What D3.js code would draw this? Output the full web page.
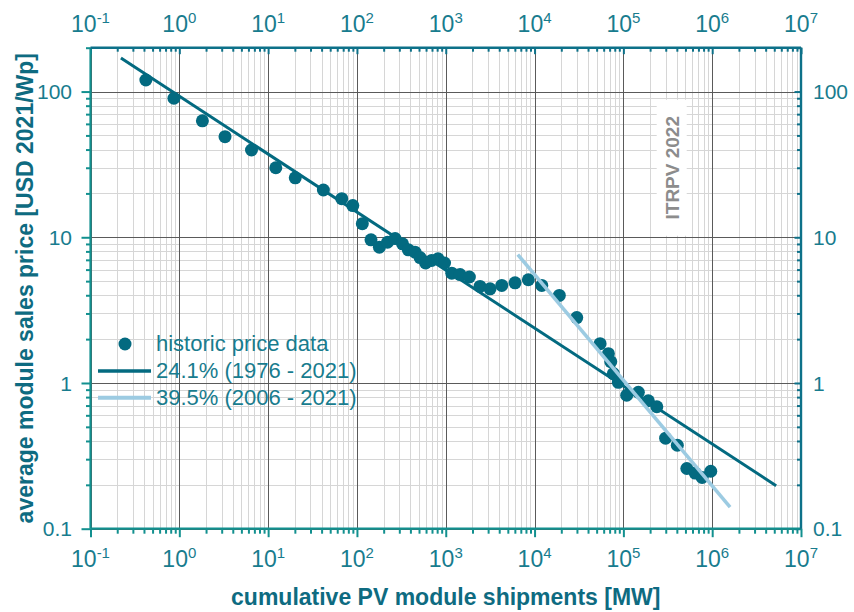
<!DOCTYPE html>
<html>
<head>
<meta charset="utf-8">
<script src="https://cdn.jsdelivr.net/npm/d3@7/dist/d3.min.js"></script>
<style>
  html, body { margin: 0; padding: 0; background: #ffffff; }
  svg { display: block; font-family: "Liberation Sans", Arial, sans-serif; }
</style>
</head>
<body>
<svg id="chart" width="854" height="612"></svg>
<script>
// Historic module prices vs. cumulative shipments (learning curve)
const shipmentsMW = [
  0.42, 0.87, 1.82, 3.27, 6.5, 12.2, 20.2, 41.9, 67.5, 89.8,
  115, 144, 179, 221, 269, 326, 379, 451, 514, 593,
  692, 819, 969, 1169, 1449, 1845, 2433, 3153, 4272, 6030,
  8510, 12050, 19000, 29850, 54700, 67800, 72100, 77100, 87800, 109000,
  147500, 191000, 238000, 299000, 405000, 518000, 643000, 770000, 964000
];
const pricesUSD = [
  120, 90, 63, 49, 39.7, 30, 25.6, 21.1, 18.4, 16.5,
  12.4, 9.6, 8.54, 9.24, 9.8, 9.01, 8.2, 7.9, 7.26, 6.66,
  6.93, 7.11, 6.66, 5.67, 5.55, 5.34, 4.6, 4.43, 4.67, 4.87,
  5.11, 4.67, 3.99, 2.81, 1.86, 1.59, 1.40, 1.16, 1.01, 0.824,
  0.864, 0.755, 0.687, 0.418, 0.374, 0.259, 0.241, 0.225, 0.248
];

// Learning-rate fits: price = anchorPrice * (x / anchorX)^log2(1 - rate)
const fitLabels = ["24.1% (1976 - 2021)", "39.5% (2006 - 2021)"];
const fitRates = [0.241, 0.395];
const fitAnchorX = [1, 1e5];
const fitAnchorPrice = [93, 1.046];
const fitFromX = [0.22, 6470];
const fitToX = [5.25e6, 1.59e6];
const fitColors = ["#036a80", "#9ccbe2"];

const dataLabel = "historic price data";
const xTickExponents = [-1, 0, 1, 2, 3, 4, 5, 6, 7];
const yTickValues = [0.1, 1, 10, 100];
const yTickLabels = ["0.1", "1", "10", "100"];
const xTitle = "cumulative PV module shipments [MW]";
const yTitle = "average module sales price [USD 2021/Wp]";
const stamp = "ITRPV 2022";

const dotColor = "#036a80";
const axisLB = "#12908f";
const axisTR = "#0d7189";
const labelColor = "#187c8e";
const titleColor = "#0e6b81";

const svg = d3.select("#chart");
const pL = 90.5, pR = 801, pT = 47.7, pB = 528.7;

const x = d3.scaleLog().domain([0.1, 1e7]).range([pL, pR]);
const y = d3.scaleLog().domain([0.1, 200]).range([pB, pT]);

// minor / major positions per decade
const xMajor = xTickExponents.map(e => Math.pow(10, e));
const xMinor = [];
xTickExponents.slice(0, -1).forEach(e => {
  for (let k = 2; k <= 9; k++) xMinor.push(k * Math.pow(10, e));
});
const yMinor = [];
[-1, 0, 1, 2].forEach(e => {
  for (let k = 2; k <= 9; k++) {
    const v = k * Math.pow(10, e);
    if (v <= 200) yMinor.push(v);
  }
});

const crisp = v => Math.round(v) + 0.5;

// grid
const grid = svg.append("g");
grid.selectAll(".xm").data(xMinor).join("line")
  .attr("x1", d => crisp(x(d))).attr("x2", d => crisp(x(d)))
  .attr("y1", pT).attr("y2", pB)
  .attr("stroke", "#d6d6d6").attr("stroke-width", 1);
grid.selectAll(".ym").data(yMinor).join("line")
  .attr("y1", d => crisp(y(d))).attr("y2", d => crisp(y(d)))
  .attr("x1", pL).attr("x2", pR)
  .attr("stroke", "#d6d6d6").attr("stroke-width", 1);
grid.selectAll(".xM").data(xMajor).join("line")
  .attr("x1", d => crisp(x(d))).attr("x2", d => crisp(x(d)))
  .attr("y1", pT).attr("y2", pB)
  .attr("stroke", "#5a5a5a").attr("stroke-width", 1);
grid.selectAll(".yM").data(yTickValues).join("line")
  .attr("y1", d => crisp(y(d))).attr("y2", d => crisp(y(d)))
  .attr("x1", pL).attr("x2", pR)
  .attr("stroke", "#5a5a5a").attr("stroke-width", 1);

// stamp with white backing
const stampX = x(3.5e5), stampY = y(30);
svg.append("rect")
  .attr("x", stampX - 15).attr("y", stampY - 68)
  .attr("width", 30).attr("height", 136)
  .attr("fill", "#ffffff");
svg.append("text")
  .attr("transform", `translate(${stampX + 7},${stampY}) rotate(-90)`)
  .attr("text-anchor", "middle")
  .attr("font-size", 19).attr("font-weight", "bold")
  .attr("fill", "#8c8c8c")
  .text(stamp);

// fit lines
const fitPoint = (i, xv) => fitAnchorPrice[i] * Math.pow(xv / fitAnchorX[i], Math.log2(1 - fitRates[i]));
const line = d3.line().x(d => x(d[0])).y(d => y(d[1]));
const fitPath = i => line([[fitFromX[i], fitPoint(i, fitFromX[i])], [fitToX[i], fitPoint(i, fitToX[i])]]);

svg.append("path").attr("d", fitPath(0))
  .attr("stroke", fitColors[0]).attr("stroke-width", 3).attr("fill", "none");

// historic data
svg.append("g").selectAll("circle")
  .data(shipmentsMW.map((s, i) => [s, pricesUSD[i]]))
  .join("circle")
  .attr("cx", d => x(d[0])).attr("cy", d => y(d[1]))
  .attr("r", 6.5).attr("fill", dotColor);

svg.append("path").attr("d", fitPath(1))
  .attr("stroke", fitColors[1]).attr("stroke-width", 3.5).attr("fill", "none");

// axes
function axisTicks(g, axis) { g.call(axis); g.select(".domain").remove(); }

const gB = svg.append("g").attr("transform", `translate(0,${pB})`);
gB.append("g").call(g => axisTicks(g, d3.axisBottom(x).tickValues(xMajor).tickSize(8.5).tickFormat("")));
gB.append("g").call(g => axisTicks(g, d3.axisBottom(x).tickValues(xMinor).tickSize(5).tickFormat("")));
gB.selectAll("line").attr("stroke", axisLB).attr("stroke-width", 2);

const gT = svg.append("g").attr("transform", `translate(0,${pT})`);
gT.append("g").call(g => axisTicks(g, d3.axisTop(x).tickValues(xMajor).tickSize(-6.5).tickFormat("")));
gT.append("g").call(g => axisTicks(g, d3.axisTop(x).tickValues(xMinor).tickSize(-4).tickFormat("")));
gT.selectAll("line").attr("stroke", axisTR).attr("stroke-width", 2);

const gL = svg.append("g").attr("transform", `translate(${pL},0)`);
gL.append("g").call(g => axisTicks(g, d3.axisLeft(y).tickValues(yTickValues).tickSize(9).tickFormat("")));
gL.append("g").call(g => axisTicks(g, d3.axisLeft(y).tickValues(yMinor).tickSize(4.5).tickFormat("")));
gL.selectAll("line").attr("stroke", axisLB).attr("stroke-width", 2);

const gR = svg.append("g").attr("transform", `translate(${pR},0)`);
gR.append("g").call(g => axisTicks(g, d3.axisRight(y).tickValues(yTickValues).tickSize(-6.5).tickFormat("")));
gR.append("g").call(g => axisTicks(g, d3.axisRight(y).tickValues(yMinor).tickSize(-4).tickFormat("")));
gR.selectAll("line").attr("stroke", axisTR).attr("stroke-width", 2);

// frame
svg.append("line").attr("x1", pL).attr("x2", pR).attr("y1", pB).attr("y2", pB)
  .attr("stroke", axisLB).attr("stroke-width", 2.2);
svg.append("line").attr("x1", pL).attr("x2", pL).attr("y1", pT).attr("y2", pB)
  .attr("stroke", axisLB).attr("stroke-width", 2.2);
svg.append("line").attr("x1", pL).attr("x2", pR).attr("y1", pT).attr("y2", pT)
  .attr("stroke", axisTR).attr("stroke-width", 2.4);
svg.append("line").attr("x1", pR).attr("x2", pR).attr("y1", pT).attr("y2", pB)
  .attr("stroke", axisTR).attr("stroke-width", 2.4);

// power-of-ten labels on top and bottom
function powerLabels(baseline) {
  const t = svg.append("g").selectAll("text").data(xTickExponents).join("text")
    .attr("x", d => x(Math.pow(10, d)))
    .attr("y", baseline)
    .attr("text-anchor", "middle")
    .attr("fill", labelColor)
    .attr("font-size", 23);
  t.append("tspan").text("10");
  t.append("tspan").attr("font-size", 15).attr("dy", -8.5).text(d => d < 0 ? "-" + Math.abs(d) : String(d));
}
powerLabels(31.7);
powerLabels(566.7);

// value labels left and right
svg.append("g").selectAll("text").data(yTickValues).join("text")
  .attr("x", 72).attr("y", d => y(d)).attr("dy", "0.36em")
  .attr("text-anchor", "end").attr("fill", labelColor).attr("font-size", 21)
  .text((d, i) => yTickLabels[i]);
svg.append("g").selectAll("text").data(yTickValues).join("text")
  .attr("x", 813).attr("y", d => y(d)).attr("dy", "0.36em")
  .attr("text-anchor", "start").attr("fill", labelColor).attr("font-size", 21)
  .text((d, i) => yTickLabels[i]);

// titles
svg.append("text")
  .attr("x", (pL + pR) / 2).attr("y", 605)
  .attr("text-anchor", "middle").attr("font-weight", "bold")
  .attr("font-size", 23).attr("fill", titleColor)
  .text(xTitle);
svg.append("text")
  .attr("transform", `translate(33,${(pT + pB) / 2}) rotate(-90)`)
  .attr("text-anchor", "middle").attr("font-weight", "bold")
  .attr("font-size", 23).attr("fill", titleColor)
  .text(yTitle);

// legend
const legend = svg.append("g");
const rows = [344, 371, 397.7];
legend.append("circle").attr("cx", 125).attr("cy", rows[0]).attr("r", 6.5).attr("fill", dotColor);
fitLabels.forEach((lab, i) => {
  legend.append("line")
    .attr("x1", 98).attr("x2", 151).attr("y1", rows[i + 1]).attr("y2", rows[i + 1])
    .attr("stroke", fitColors[i]).attr("stroke-width", i === 0 ? 3.5 : 4);
});
[dataLabel, ...fitLabels].forEach((lab, i) => {
  legend.append("text")
    .attr("x", 156).attr("y", rows[i] + 7)
    .attr("font-size", 22).attr("fill", labelColor)
    .text(lab);
});
</script>
</body>
</html>
